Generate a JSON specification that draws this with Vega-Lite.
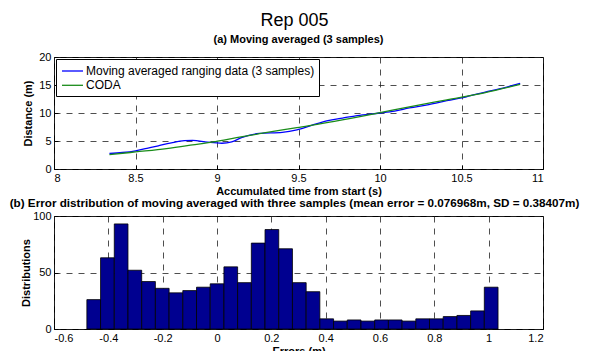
{
  "$schema": "https://vega.github.io/schema/vega-lite/v6.json",
  "background": "white",
  "padding": {"left": 9, "top": 11, "right": 2, "bottom": 4},
  "title": {"text": "Rep 005", "fontSize": 18, "font": "Liberation Sans", "fontWeight": "normal", "anchor": "middle", "offset": 4, "color": "black"},
  "spacing": 47,
  "bounds": "flush",
  "config": {
    "view": {"stroke": "black", "strokeWidth": 1},
    "font": "Liberation Sans",
    "axis": {
      "domain": false,
      "grid": true,
      "gridColor": "#222222",
      "gridDash": [6, 6],
      "gridWidth": 0.8,
      "ticks": true,
      "tickColor": "black",
      "tickSize": -4,
      "labelFont": "Liberation Sans",
      "labelFontSize": 11,
      "labelColor": "black",
      "titleFont": "Liberation Sans",
      "titleFontSize": 11,
      "titleFontWeight": "bold",
      "titleColor": "black",
      "labelPadding": 7
    },
    "title": {"font": "Liberation Sans", "fontSize": 11, "fontWeight": "bold", "color": "black"}
  },
  "vconcat": [
    {
      "width": 489,
      "height": 112,
      "title": {"text": "(a) Moving averaged (3 samples)", "offset": 6},
      "data": {"values": [
        {"t": 8.34, "d": 2.8, "s": "Moving averaged ranging data (3 samples)"},
        {"t": 8.42, "d": 2.95, "s": "Moving averaged ranging data (3 samples)"},
        {"t": 8.5, "d": 3.25, "s": "Moving averaged ranging data (3 samples)"},
        {"t": 8.57, "d": 3.7, "s": "Moving averaged ranging data (3 samples)"},
        {"t": 8.64, "d": 4.15, "s": "Moving averaged ranging data (3 samples)"},
        {"t": 8.72, "d": 4.65, "s": "Moving averaged ranging data (3 samples)"},
        {"t": 8.8, "d": 5.05, "s": "Moving averaged ranging data (3 samples)"},
        {"t": 8.85, "d": 5.12, "s": "Moving averaged ranging data (3 samples)"},
        {"t": 8.94, "d": 4.8, "s": "Moving averaged ranging data (3 samples)"},
        {"t": 9.03, "d": 4.6, "s": "Moving averaged ranging data (3 samples)"},
        {"t": 9.09, "d": 4.85, "s": "Moving averaged ranging data (3 samples)"},
        {"t": 9.15, "d": 5.6, "s": "Moving averaged ranging data (3 samples)"},
        {"t": 9.26, "d": 6.35, "s": "Moving averaged ranging data (3 samples)"},
        {"t": 9.4, "d": 6.55, "s": "Moving averaged ranging data (3 samples)"},
        {"t": 9.49, "d": 7.0, "s": "Moving averaged ranging data (3 samples)"},
        {"t": 9.58, "d": 7.8, "s": "Moving averaged ranging data (3 samples)"},
        {"t": 9.68, "d": 8.65, "s": "Moving averaged ranging data (3 samples)"},
        {"t": 9.77, "d": 9.1, "s": "Moving averaged ranging data (3 samples)"},
        {"t": 9.86, "d": 9.55, "s": "Moving averaged ranging data (3 samples)"},
        {"t": 10.0, "d": 10.0, "s": "Moving averaged ranging data (3 samples)"},
        {"t": 10.09, "d": 10.35, "s": "Moving averaged ranging data (3 samples)"},
        {"t": 10.18, "d": 10.9, "s": "Moving averaged ranging data (3 samples)"},
        {"t": 10.3, "d": 11.5, "s": "Moving averaged ranging data (3 samples)"},
        {"t": 10.41, "d": 12.2, "s": "Moving averaged ranging data (3 samples)"},
        {"t": 10.53, "d": 12.9, "s": "Moving averaged ranging data (3 samples)"},
        {"t": 10.64, "d": 13.7, "s": "Moving averaged ranging data (3 samples)"},
        {"t": 10.76, "d": 14.5, "s": "Moving averaged ranging data (3 samples)"},
        {"t": 10.86, "d": 15.3, "s": "Moving averaged ranging data (3 samples)"},
        {"t": 8.34, "d": 2.55, "s": "CODA"},
        {"t": 8.5, "d": 3.05, "s": "CODA"},
        {"t": 8.69, "d": 3.65, "s": "CODA"},
        {"t": 8.85, "d": 4.3, "s": "CODA"},
        {"t": 8.99, "d": 4.9, "s": "CODA"},
        {"t": 9.12, "d": 5.6, "s": "CODA"},
        {"t": 9.26, "d": 6.3, "s": "CODA"},
        {"t": 9.49, "d": 7.4, "s": "CODA"},
        {"t": 9.72, "d": 8.5, "s": "CODA"},
        {"t": 10.0, "d": 10.05, "s": "CODA"},
        {"t": 10.18, "d": 11.1, "s": "CODA"},
        {"t": 10.41, "d": 12.35, "s": "CODA"},
        {"t": 10.64, "d": 13.6, "s": "CODA"},
        {"t": 10.86, "d": 15.1, "s": "CODA"}
      ]},
      "mark": {"type": "line", "strokeWidth": 1.3, "interpolate": "monotone"},
      "encoding": {
        "x": {"field": "t", "type": "quantitative",
              "scale": {"domain": [8, 11], "nice": false, "zero": false},
              "axis": {"values": [8, 8.5, 9, 9.5, 10, 10.5, 11], "labelExpr": "'' + datum.value", "title": "Accumulated time from start (s)", "titlePadding": 2}},
        "y": {"field": "d", "type": "quantitative",
              "scale": {"domain": [0, 20], "nice": false},
              "axis": {"values": [0, 5, 10, 15, 20], "labelExpr": "'' + datum.value", "title": "Distance (m)", "titlePadding": 5}},
        "color": {"field": "s", "type": "nominal",
                  "scale": {"domain": ["Moving averaged ranging data (3 samples)", "CODA"], "range": ["#0000ff", "#1a8c1a"]},
                  "legend": {"title": null, "orient": "top-left", "offset": 2, "strokeColor": "black", "fillColor": "white", "padding": 4, "labelFontSize": 12, "labelFont": "Liberation Sans", "labelColor": "black", "labelLimit": 0, "symbolType": "M-1.5,0H1.5", "symbolSize": 196, "symbolOffset": 4.5, "symbolStrokeWidth": 1.3, "labelOffset": 5.5, "rowPadding": 0.3}}
      }
    },
    {
      "width": 489,
      "height": 113,
      "title": {"text": "(b) Error distribution of moving averaged with three samples (mean error = 0.076968m, SD = 0.38407m)", "offset": 0, "fontSize": 11.7, "dx": -4},
      "data": {"values": [
        {"lo": -0.479, "hi": -0.4286, "count": 26},
        {"lo": -0.4286, "hi": -0.3781, "count": 63},
        {"lo": -0.3781, "hi": -0.3277, "count": 93},
        {"lo": -0.3277, "hi": -0.2772, "count": 52},
        {"lo": -0.2772, "hi": -0.2268, "count": 42},
        {"lo": -0.2268, "hi": -0.1763, "count": 36},
        {"lo": -0.1763, "hi": -0.1259, "count": 32},
        {"lo": -0.1259, "hi": -0.0754, "count": 34},
        {"lo": -0.0754, "hi": -0.025, "count": 37},
        {"lo": -0.025, "hi": 0.0255, "count": 40},
        {"lo": 0.0255, "hi": 0.0759, "count": 55},
        {"lo": 0.0759, "hi": 0.1264, "count": 41},
        {"lo": 0.1264, "hi": 0.1768, "count": 76},
        {"lo": 0.1768, "hi": 0.2273, "count": 88},
        {"lo": 0.2273, "hi": 0.2777, "count": 71},
        {"lo": 0.2777, "hi": 0.3282, "count": 41},
        {"lo": 0.3282, "hi": 0.3786, "count": 33},
        {"lo": 0.3786, "hi": 0.4291, "count": 9},
        {"lo": 0.4291, "hi": 0.4795, "count": 7},
        {"lo": 0.4795, "hi": 0.53, "count": 8},
        {"lo": 0.53, "hi": 0.5804, "count": 7},
        {"lo": 0.5804, "hi": 0.6309, "count": 8},
        {"lo": 0.6309, "hi": 0.6813, "count": 8},
        {"lo": 0.6813, "hi": 0.7318, "count": 7},
        {"lo": 0.7318, "hi": 0.7822, "count": 9},
        {"lo": 0.7822, "hi": 0.8327, "count": 9},
        {"lo": 0.8327, "hi": 0.8831, "count": 11},
        {"lo": 0.8831, "hi": 0.9336, "count": 12},
        {"lo": 0.9336, "hi": 0.984, "count": 16},
        {"lo": 0.984, "hi": 1.0345, "count": 37}
      ]},
      "mark": {"type": "bar", "fill": "#000090", "stroke": "black", "strokeWidth": 0.8},
      "encoding": {
        "x": {"field": "lo", "type": "quantitative",
              "scale": {"domain": [-0.6, 1.2], "nice": false, "zero": false},
              "axis": {"values": [-0.6, -0.4, -0.2, 0, 0.2, 0.4, 0.6, 0.8, 1, 1.2], "labelExpr": "'' + datum.value", "title": "Errors (m)", "titlePadding": 2}},
        "x2": {"field": "hi"},
        "y": {"field": "count", "type": "quantitative",
              "scale": {"domain": [0, 100], "nice": false},
              "axis": {"values": [0, 50, 100], "labelExpr": "'' + datum.value", "title": "Distributions", "titlePadding": 1}},
        "y2": {"datum": 0}
      }
    }
  ]
}
